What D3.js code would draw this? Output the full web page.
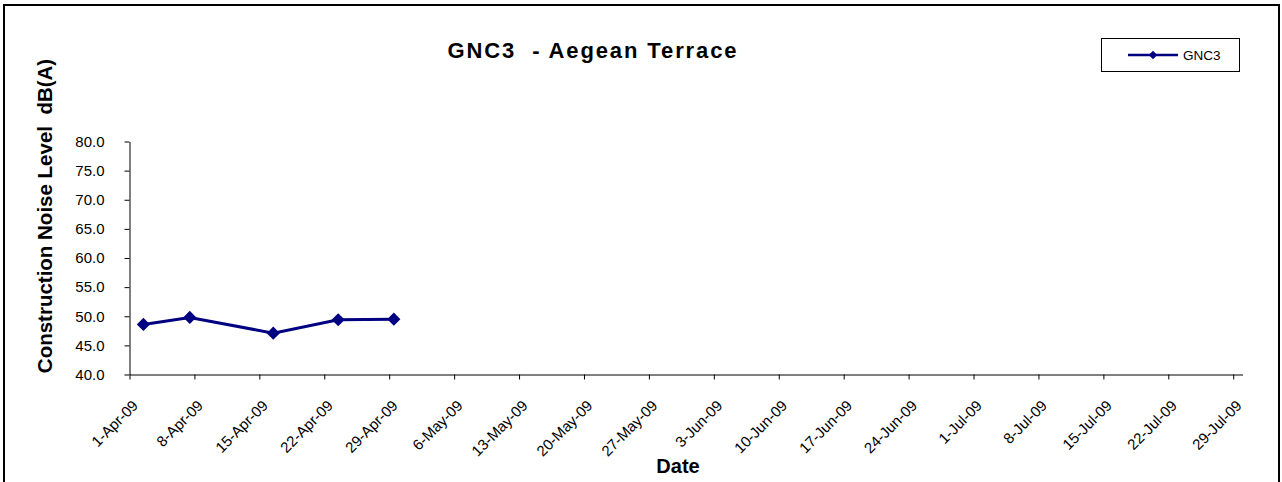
<!DOCTYPE html>
<html>
<head>
<meta charset="UTF-8">
<title>GNC3 - Aegean Terrace</title>
<style>
  html, body { margin: 0; background: #fff; }
  svg { display: block; font-family: Arial, "Liberation Sans", sans-serif; }
</style>
</head>
<body>
<svg id="chart" width="1282" height="482"></svg>
<script src="https://cdn.jsdelivr.net/npm/d3@7"></script>
<script>
// data
var dates = ["2009-04-02T12:00", "2009-04-07T12:00", "2009-04-16T12:00", "2009-04-23T12:00", "2009-04-29T12:00"];
var noise = [48.6, 49.8, 47.1, 49.4, 49.5];
var yTicks = [40, 45, 50, 55, 60, 65, 70, 75, 80];
var xStart = "2009-04-01", xEnd = "2009-07-30";
var seriesName = "GNC3";
var title = "GNC3  - Aegean Terrace";

var parse = d3.isoParse;
var fmt = d3.timeFormat("%-d-%b-%y");
var points = dates.map(function (d, i) { return { date: parse(d), value: noise[i] }; });

var svg = d3.select("#chart");
var navy = "#000080";

// outer chart border
svg.append("rect")
  .attr("x", 4).attr("y", 5).attr("width", 1275).attr("height", 490)
  .attr("fill", "none").attr("stroke", "#000").attr("stroke-width", 2);

var x = d3.scaleTime().domain([parse(xStart), parse(xEnd)]).range([129.5, 1242.5]);
var y = d3.scaleLinear().domain([40, 80]).range([374.5, 141.5]);

// y axis
var yAxis = svg.append("g")
  .attr("transform", "translate(129.5,0)")
  .call(d3.axisLeft(y).tickValues(yTicks).tickFormat(d3.format(".1f")).tickSize(5).tickSizeOuter(0));
yAxis.select(".domain").attr("stroke", "#000");
yAxis.selectAll(".tick line").attr("stroke", "#000");
yAxis.selectAll("text").attr("font-size", 15).attr("fill", "#000").attr("x", -25);

// x axis, weekly ticks (Wednesdays, starting 1-Apr-09)
var xTicks = d3.timeWednesday.range(parse(xStart), parse(xEnd));
var xAxis = svg.append("g")
  .attr("transform", "translate(0,374.5)")
  .call(d3.axisBottom(x).tickValues(xTicks).tickFormat(fmt).tickSize(5).tickSizeOuter(0));
xAxis.select(".domain").attr("stroke", "#000");
xAxis.selectAll(".tick line").attr("stroke", "#000");
xAxis.selectAll("text")
  .attr("font-size", 15).attr("fill", "#000")
  .attr("text-anchor", "end")
  .attr("dy", 0).attr("y", 0)
  .attr("transform", "translate(9,32) rotate(-45)");

// line + markers
var line = d3.line().x(function (d) { return x(d.date); }).y(function (d) { return y(d.value); });
svg.append("path").datum(points)
  .attr("d", line).attr("fill", "none").attr("stroke", navy).attr("stroke-width", 3);

var diamond = d3.symbol().type(d3.symbolDiamond2).size(110);
svg.selectAll(".pt").data(points).enter().append("path")
  .attr("class", "pt")
  .attr("d", diamond)
  .attr("transform", function (d) { return "translate(" + x(d.date) + "," + y(d.value) + ")"; })
  .attr("fill", navy);

// titles
svg.append("text")
  .attr("x", 592).attr("y", 58)
  .attr("text-anchor", "middle").attr("font-size", 22).attr("font-weight", "bold")
  .attr("textLength", 289).attr("lengthAdjust", "spacing")
  .style("white-space", "pre")
  .text(title);

svg.append("text")
  .attr("transform", "translate(52,216) rotate(-90)")
  .attr("text-anchor", "middle").attr("font-size", 20.5).attr("font-weight", "bold")
  .style("white-space", "pre")
  .text("Construction Noise Level  dB(A)");

svg.append("text")
  .attr("x", 678).attr("y", 473)
  .attr("text-anchor", "middle").attr("font-size", 20).attr("font-weight", "bold")
  .text("Date");

// legend
var lg = svg.append("g");
lg.append("rect")
  .attr("x", 1101.5).attr("y", 38.5).attr("width", 138).attr("height", 33)
  .attr("fill", "#fff").attr("stroke", "#000").attr("stroke-width", 1);
lg.append("line")
  .attr("x1", 1128).attr("x2", 1178).attr("y1", 55).attr("y2", 55)
  .attr("stroke", navy).attr("stroke-width", 2.5);
lg.append("path")
  .attr("d", d3.symbol().type(d3.symbolDiamond2).size(45))
  .attr("transform", "translate(1153,55)").attr("fill", navy);
lg.append("text")
  .attr("x", 1183).attr("y", 59.5)
  .attr("font-size", 13.5).attr("fill", "#000")
  .text(seriesName);
</script>
</body>
</html>
